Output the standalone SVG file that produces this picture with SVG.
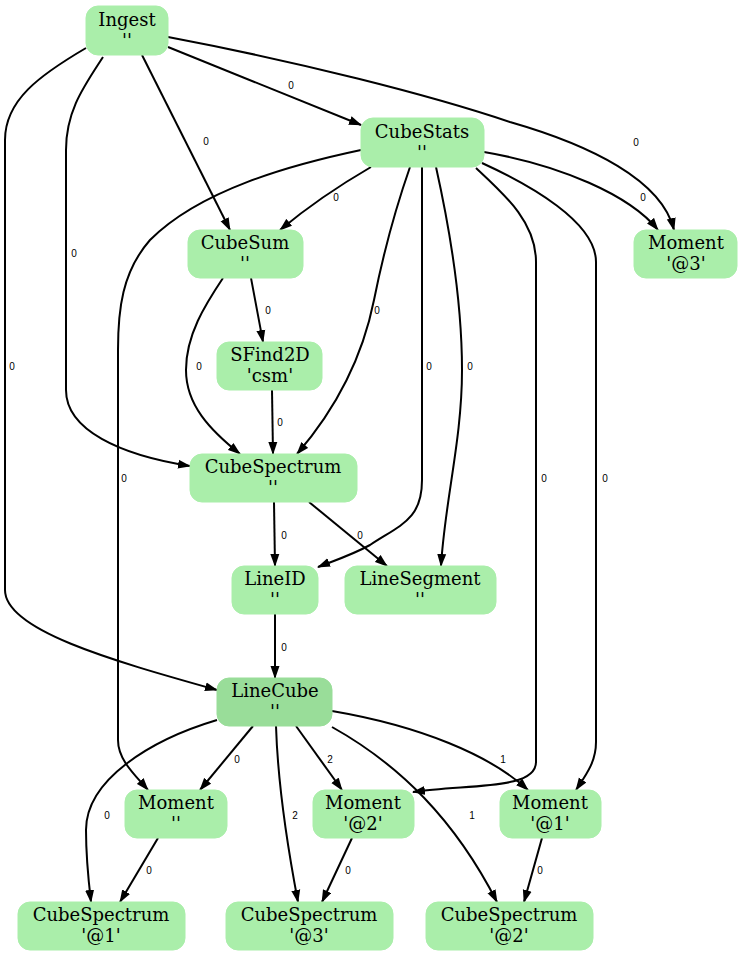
<svg xmlns="http://www.w3.org/2000/svg" width="741" height="957" viewBox="0 0 741 957">
<style>
.n rect{fill:#aaeeaa;stroke:#aaeeaa;stroke-width:1}
.n.d rect{fill:#99dd99;stroke:#99dd99}
.n text{font-family:"DejaVu Serif","Liberation Serif",serif;font-size:18px;text-anchor:middle;fill:#000}
.e path{fill:none;stroke:#000;stroke-width:2}
.e text{font-family:"Liberation Sans",Arial,sans-serif;font-size:10px;text-anchor:middle;fill:#000}
</style>
<defs>
<marker id="arr" viewBox="0 0 13 10" refX="12" refY="5" markerWidth="13" markerHeight="10" orient="auto" markerUnits="userSpaceOnUse">
<path d="M0,0.5 L13,5 L0,9.5 z" fill="#000"/>
</marker>
</defs>
<rect width="741" height="957" fill="#fff"/>
<g id="edges" class="e">
<g marker-end="url(#arr)">
<path d="M168,47 L361,125"/>
<path d="M142,55 L230,230"/>
<path d="M103,57 C85,85 66,110 66,150 L66,390 C66,430 120,455 190,466"/>
<path d="M86,48 C40,75 5,100 5,140 L5,590 C5,630 110,660 217,690"/>
<path d="M168,37 C300,62 430,95 510,122 C590,145 662,180 674,230"/>
<path d="M371,167 C340,185 310,205 280,230"/>
<path d="M484,152 C560,165 630,195 658,230"/>
<path d="M410,167 C395,210 382,260 374,300 C362,360 335,410 297,454"/>
<path d="M422,167 L422,480 C422,520 400,525 370,545 C350,556 330,562 318,567"/>
<path d="M436,167 C450,230 462,300 462,370 C462,440 445,500 441,566"/>
<path d="M361,150 C290,165 200,190 150,240 C122,272 118,310 118,350 L118,740 C118,760 135,775 148,790"/>
<path d="M476,168 C505,195 536,222 536,262 L536,762 C536,790 470,784 413,792"/>
<path d="M482,163 C530,185 596,222 596,262 L596,742 C596,762 586,775 576,790"/>
<path d="M223,278 C205,305 186,335 186,370 C186,405 210,430 240,454"/>
<path d="M251,278 L263,342"/>
<path d="M272,390 L273,454"/>
<path d="M274,502 L275,566"/>
<path d="M309,502 L387,566"/>
<path d="M275,614 L275,678"/>
<path d="M253,726 L200,790"/>
<path d="M296,726 L342,790"/>
<path d="M332,711 C420,726 490,755 528,790"/>
<path d="M217,720 C150,740 86,780 86,830 C86,860 89,885 91,902"/>
<path d="M276,726 C278,790 290,860 298,902"/>
<path d="M332,727 C400,765 455,820 497,902"/>
<path d="M158,838 L120,902"/>
<path d="M352,838 L322,902"/>
<path d="M542,838 L524,902"/>
</g>
<text x="291" y="89">0</text>
<text x="206" y="145">0</text>
<text x="74" y="257">0</text>
<text x="12" y="370">0</text>
<text x="636" y="146">0</text>
<text x="336" y="201">0</text>
<text x="643" y="201">0</text>
<text x="377" y="314">0</text>
<text x="429" y="370">0</text>
<text x="470" y="370">0</text>
<text x="124" y="482">0</text>
<text x="544" y="482">0</text>
<text x="605" y="482">0</text>
<text x="199" y="370">0</text>
<text x="268" y="314">0</text>
<text x="280" y="426">0</text>
<text x="284" y="539">0</text>
<text x="360" y="539">0</text>
<text x="284" y="651">0</text>
<text x="237" y="763">0</text>
<text x="330" y="763">2</text>
<text x="503" y="763">1</text>
<text x="107" y="819">0</text>
<text x="295" y="819">2</text>
<text x="472" y="819">1</text>
<text x="149" y="874">0</text>
<text x="348" y="874">0</text>
<text x="540" y="874">0</text>
</g>
<g id="Ingest" class="n"><rect x="86" y="6" width="82" height="49" rx="12"/><text x="127" y="26">Ingest</text><text x="127" y="47">''</text></g>
<g id="CubeStats" class="n"><rect x="361" y="118" width="123" height="49" rx="12"/><text x="422" y="138">CubeStats</text><text x="422" y="159">''</text></g>
<g id="CubeSum" class="n"><rect x="188" y="230" width="115" height="48" rx="12"/><text x="245" y="249">CubeSum</text><text x="245" y="270">''</text></g>
<g id="Moment3" class="n"><rect x="634" y="230" width="103" height="48" rx="12"/><text x="686" y="249">Moment</text><text x="686" y="270">'@3'</text></g>
<g id="SFind2D" class="n"><rect x="217" y="342" width="105" height="48" rx="12"/><text x="270" y="361">SFind2D</text><text x="270" y="382">'csm'</text></g>
<g id="CubeSpectrum" class="n"><rect x="190" y="454" width="167" height="48" rx="12"/><text x="273" y="473">CubeSpectrum</text><text x="273" y="494">''</text></g>
<g id="LineID" class="n"><rect x="232" y="566" width="86" height="48" rx="12"/><text x="275" y="585">LineID</text><text x="275" y="606">''</text></g>
<g id="LineSegment" class="n"><rect x="345" y="566" width="151" height="48" rx="12"/><text x="420" y="585">LineSegment</text><text x="420" y="606">''</text></g>
<g id="LineCube" class="n d"><rect x="217" y="678" width="115" height="48" rx="12"/><text x="275" y="697">LineCube</text><text x="275" y="718">''</text></g>
<g id="Moment" class="n"><rect x="125" y="790" width="102" height="48" rx="12"/><text x="176" y="809">Moment</text><text x="176" y="830">''</text></g>
<g id="Moment2" class="n"><rect x="313" y="790" width="101" height="48" rx="12"/><text x="363" y="809">Moment</text><text x="363" y="830">'@2'</text></g>
<g id="Moment1" class="n"><rect x="500" y="790" width="101" height="48" rx="12"/><text x="550" y="809">Moment</text><text x="550" y="830">'@1'</text></g>
<g id="CubeSpectrum1" class="n"><rect x="18" y="902" width="167" height="48" rx="12"/><text x="101" y="921">CubeSpectrum</text><text x="101" y="942">'@1'</text></g>
<g id="CubeSpectrum3" class="n"><rect x="226" y="902" width="167" height="48" rx="12"/><text x="309" y="921">CubeSpectrum</text><text x="309" y="942">'@3'</text></g>
<g id="CubeSpectrum2" class="n"><rect x="426" y="902" width="167" height="48" rx="12"/><text x="509" y="921">CubeSpectrum</text><text x="509" y="942">'@2'</text></g>
</svg>
